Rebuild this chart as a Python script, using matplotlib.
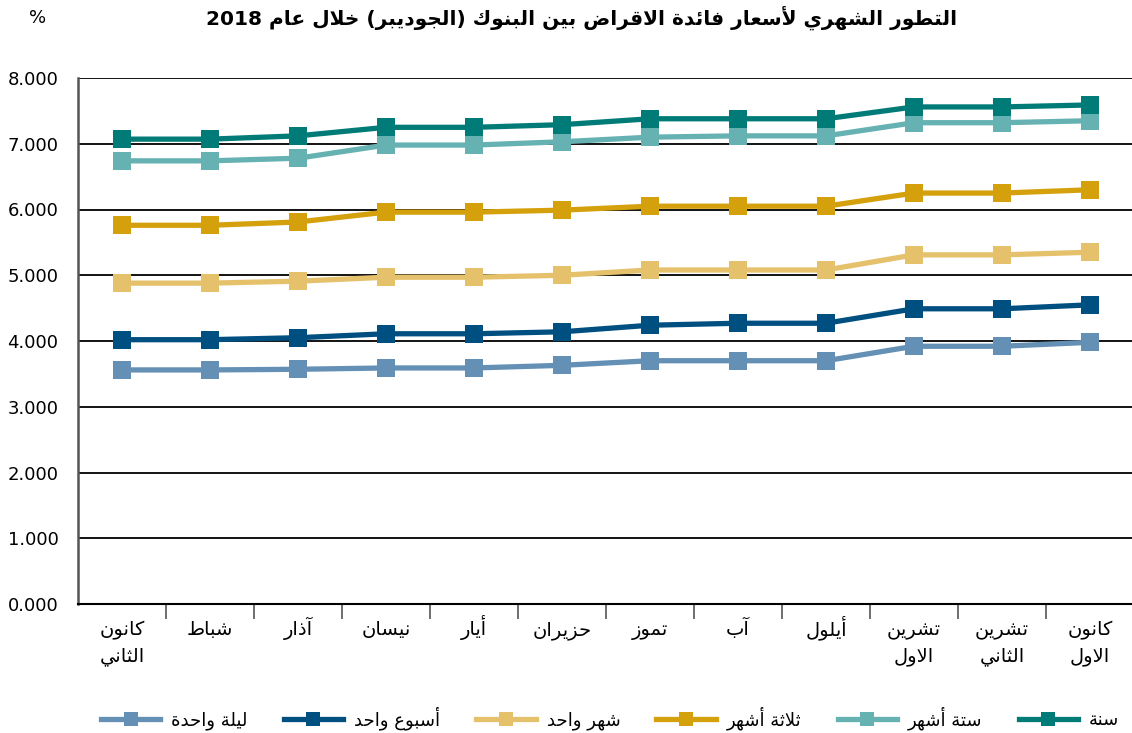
import re
import matplotlib
matplotlib.use("Agg")
import matplotlib.pyplot as plt
from matplotlib.ticker import FixedLocator
from matplotlib.transforms import blended_transform_factory

# --- minimal Arabic shaping (matplotlib has no bidi / shaping) ---
TWO = {'آ': 0xFE81, 'أ': 0xFE83, 'ؤ': 0xFE85, 'إ': 0xFE87, 'ا': 0xFE8D, 'ة': 0xFE93,
       'د': 0xFEA9, 'ذ': 0xFEAB, 'ر': 0xFEAD, 'ز': 0xFEAF, 'و': 0xFEED, 'ى': 0xFEEF}
FOUR = {'ئ': 0xFE89, 'ب': 0xFE8F, 'ت': 0xFE95, 'ث': 0xFE99, 'ج': 0xFE9D, 'ح': 0xFEA1,
        'خ': 0xFEA5, 'س': 0xFEB1, 'ش': 0xFEB5, 'ص': 0xFEB9, 'ض': 0xFEBD, 'ط': 0xFEC1,
        'ظ': 0xFEC5, 'ع': 0xFEC9, 'غ': 0xFECD, 'ف': 0xFED1, 'ق': 0xFED5, 'ك': 0xFED9,
        'ل': 0xFEDD, 'م': 0xFEE1, 'ن': 0xFEE5, 'ه': 0xFEE9, 'ي': 0xFEF1}
LAMALEF = {'آ': 0xFEF5, 'أ': 0xFEF7, 'إ': 0xFEF9, 'ا': 0xFEFB}


def shape_line(s):
    toks = []
    i = 0
    while i < len(s):
        c = s[i]
        if c == 'ل' and i + 1 < len(s) and s[i + 1] in LAMALEF:
            toks.append(('R', LAMALEF[s[i + 1]]))
            i += 2
            continue
        if c in FOUR:
            toks.append(('D', FOUR[c]))
        elif c in TWO:
            toks.append(('R', TWO[c]))
        elif c == 'ء':
            toks.append(('U', 0xFE80))
        else:
            toks.append(('N', c))
        i += 1
    out = []
    for k, (kind, v) in enumerate(toks):
        prev_d = k > 0 and toks[k - 1][0] == 'D'
        next_j = k + 1 < len(toks) and toks[k + 1][0] in 'DR'
        if kind == 'D':
            if prev_d and next_j:
                out.append(chr(v + 3))
            elif prev_d:
                out.append(chr(v + 1))
            elif next_j:
                out.append(chr(v + 2))
            else:
                out.append(chr(v))
        elif kind == 'R':
            out.append(chr(v + 1) if prev_d else chr(v))
        elif kind == 'U':
            out.append(chr(v))
        else:
            out.append(v)
    vis = ''.join(out)[::-1]
    vis = re.sub(r'[0-9.]+', lambda m: m.group(0)[::-1], vis)
    return vis.translate(str.maketrans('()', ')('))


def ar(s):
    return '\n'.join(shape_line(x) for x in s.split('\n'))


# --- data ---
months = ['كانون\nالثاني', 'شباط', 'آذار', 'نيسان', 'أيار', 'حزيران', 'تموز', 'آب',
          'أيلول', 'تشرين\nالاول', 'تشرين\nالثاني', 'كانون\nالاول']
overnight = [3.56, 3.56, 3.57, 3.59, 3.59, 3.63, 3.70, 3.70, 3.70, 3.92, 3.92, 3.98]
one_week = [4.02, 4.02, 4.05, 4.11, 4.11, 4.14, 4.24, 4.27, 4.27, 4.49, 4.49, 4.55]
one_month = [4.88, 4.88, 4.91, 4.97, 4.97, 5.00, 5.08, 5.08, 5.08, 5.31, 5.31, 5.35]
three_months = [5.76, 5.76, 5.81, 5.96, 5.96, 5.99, 6.05, 6.05, 6.05, 6.25, 6.25, 6.30]
six_months = [6.74, 6.74, 6.78, 6.98, 6.98, 7.03, 7.10, 7.12, 7.12, 7.32, 7.32, 7.35]
one_year = [7.07, 7.07, 7.12, 7.25, 7.25, 7.29, 7.38, 7.38, 7.38, 7.56, 7.56, 7.59]

series = [
    ('ليلة واحدة', overnight, '#6490b6'),
    ('أسبوع واحد', one_week, '#004f81'),
    ('شهر واحد', one_month, '#e5c16c'),
    ('ثلاثة أشهر', three_months, '#d4a00c'),
    ('ستة أشهر', six_months, '#66b1b2'),
    ('سنة', one_year, '#007b78'),
]

title = 'التطور الشهري لأسعار فائدة الاقراض بين البنوك (الجوديبر) خلال عام 2018'

plt.rcParams['font.family'] = ['DejaVu Sans']

fig = plt.figure(figsize=(11.32, 7.33), dpi=100)
ax = fig.add_axes([78 / 1132, 129 / 733, 1054 / 1132, 526 / 733])

x = list(range(len(months)))
for name, vals, col in series:
    ax.plot(x, vals, color=col, lw=3.8, marker='s', markersize=12.5,
            markeredgewidth=0, label=ar(name), zorder=3)

ax.set_xlim(-0.5, 11.477)
ax.set_ylim(0, 8)
ax.set_yticks(range(0, 9))
ax.set_yticklabels(['%d.000' % v for v in range(0, 9)], fontsize=13)
for v in range(1, 9):
    ax.axhline(v, color='black', lw=1.3, zorder=1)

# month labels drawn line by line so every first line sits on the same baseline
ax.set_xticks(x)
ax.set_xticklabels([])
trans = blended_transform_factory(ax.transData, fig.transFigure)
for xi, m in zip(x, months):
    for j, line in enumerate(m.split('\n')):
        fig.text(xi, 1 - (635 + 26 * j) / 733, ar(line), transform=trans,
                 ha='center', va='baseline', fontsize=14)

ax.xaxis.set_minor_locator(FixedLocator([i + 0.5 for i in range(11)]))
ax.tick_params(axis='x', which='major', length=0)
ax.tick_params(axis='x', which='minor', length=11, width=1.2, color='#555555', direction='out')
ax.tick_params(axis='y', length=0, pad=14)

for s in ['top', 'right']:
    ax.spines[s].set_visible(False)
ax.spines['left'].set_color('#555555')
ax.spines['left'].set_linewidth(1.8)
ax.spines['bottom'].set_color('black')
ax.spines['bottom'].set_linewidth(1.5)

fig.text(582 / 1132, 1 - 18 / 733, ar(title), ha='center', va='center',
         fontsize=14.5, fontweight='bold')
fig.text(38 / 1132, 1 - 18 / 733, '%', ha='center', va='center', fontsize=13)

fig.legend(loc='center', bbox_to_anchor=(610 / 1132, 1 - 718 / 733), ncol=6,
           frameon=False, fontsize=13, handlelength=3.3, columnspacing=2.0,
           handletextpad=0.6, markerscale=0.8)

fig.savefig('out.png', dpi=100)
